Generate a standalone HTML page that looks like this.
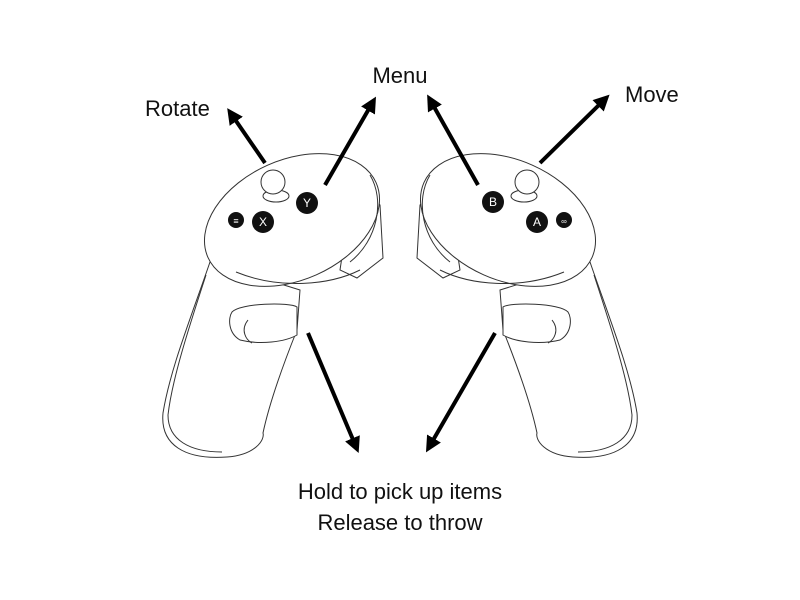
<!DOCTYPE html>
<html><head><style>
html,body{margin:0;padding:0;background:#fff;}
svg{display:block;}
text{font-family:"Liberation Sans",sans-serif;fill:#111;}
</style></head><body>
<svg width="800" height="600" viewBox="0 0 800 600" xmlns="http://www.w3.org/2000/svg">
<defs>
<marker id="ah" markerWidth="18" markerHeight="18" refX="4" refY="8" orient="auto" markerUnits="userSpaceOnUse" viewBox="0 0 18 16">
<path d="M0,0 L16,8 L0,16 z" fill="#000"/>
</marker>
<g id="ctrl" fill="#fff" stroke="#333" stroke-width="1">
  <path d="M355,170 L380,205 L383,258 L357,278 L340,270 Z"/>
  <path d="M210,262 C190,320 170,370 163,413 C160,445 185,460 227,457 C255,455 265,440 263,433 C270,400 285,360 297,330 L300,290 Z"/>
  <path d="M206,275 C188,330 172,380 168,415 C168,440 190,452 222,452" fill="none"/>
  <path d="M232,312 C240,303 290,302 297,307 L297,335 C285,342 260,345 240,340 C228,333 228,318 232,312 Z"/>
  <path d="M248,320 C240,330 246,340 252,343" fill="none"/>
  <ellipse cx="292" cy="220" rx="92" ry="60" transform="rotate(-24 292 220)"/>
  <path d="M236,272 C280,290 330,285 360,270" fill="none"/>
  <path d="M370,175 C385,200 378,240 350,262" fill="none"/>
  <ellipse cx="276" cy="196" rx="13" ry="6"/>
  <circle cx="273" cy="182" r="12"/>
</g>
</defs>
<use href="#ctrl"/>
<use href="#ctrl" transform="translate(800,0) scale(-1,1)"/>
<g fill="#111">
<circle cx="307" cy="203" r="11"/><circle cx="263" cy="222" r="11"/><circle cx="236" cy="220" r="8"/>
<circle cx="493" cy="202" r="11"/><circle cx="537" cy="222" r="11"/><circle cx="564" cy="220" r="8"/>
</g>
<g font-size="12" text-anchor="middle">
<text x="307" y="207" style="fill:#fff">Y</text><text x="263" y="226" style="fill:#fff">X</text>
<text x="236" y="224" font-size="9" style="fill:#fff">≡</text>
<text x="493" y="206" style="fill:#fff">B</text><text x="537" y="226" style="fill:#fff">A</text>
<text x="564" y="224" font-size="8" style="fill:#fff">∞</text>
</g>
<g stroke="#000" stroke-width="4" fill="none" marker-end="url(#ah)">
<line x1="265" y1="163" x2="234" y2="118"/>
<line x1="325" y1="185" x2="370" y2="107"/>
<line x1="478" y1="185" x2="433" y2="105"/>
<line x1="540" y1="163" x2="601" y2="103"/>
<line x1="308" y1="333" x2="354" y2="442"/>
<line x1="495" y1="333" x2="432" y2="442"/>
</g>
<text x="145" y="116" font-size="22">Rotate</text>
<text x="400" y="83" font-size="22" text-anchor="middle">Menu</text>
<text x="625" y="102" font-size="22">Move</text>
<text x="400" y="499" font-size="22" text-anchor="middle">Hold to pick up items</text>
<text x="400" y="530" font-size="22" text-anchor="middle">Release to throw</text>
</svg>
</body></html>
